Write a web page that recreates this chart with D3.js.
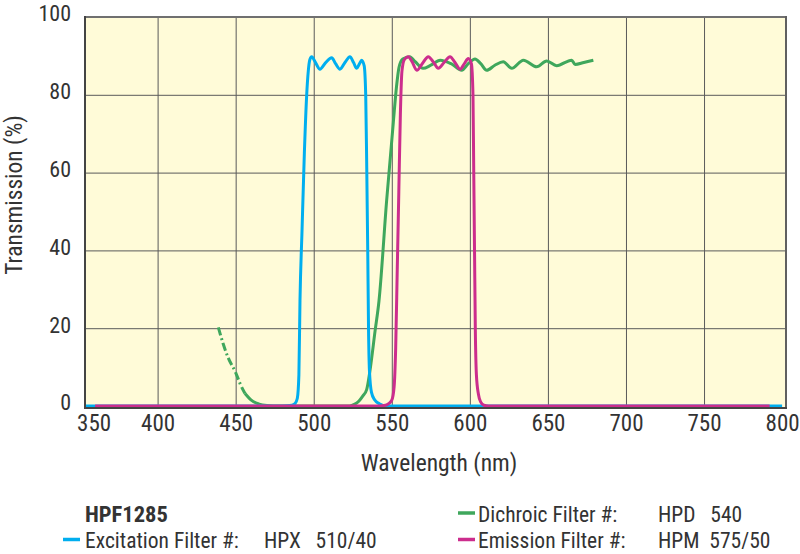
<html>
<head>
<script src="https://d3js.org/d3.v7.min.js"></script>
<style>
  body { margin: 0; background: #fff; }
  text { font-family: "Liberation Sans Narrow", "Roboto Condensed", "DejaVu Sans Condensed", Arial, sans-serif; fill: #333; }
</style>
</head>
<body>
<script>
// wavelength (nm), transmission (%)
var excitation = [
  [350, 0], [480, 0], [486, 0.2], [488, 0.6], [489.5, 2], [490.5, 8], [491.2, 27], [492.5, 45],
  [494, 65], [495.5, 80], [496.5, 86], [497.5, 89], [498.7, 89.8], [501, 88.4], [504, 86.6],
  [507.5, 88.2], [511.5, 89.5], [514, 88], [516.8, 86.6], [520, 88.3], [523.2, 89.8],
  [525.5, 88.3], [527.5, 86.8], [529.3, 88], [530.7, 88.9], [532.3, 87.5], [533.3, 80],
  [534, 60], [534.6, 40], [535.1, 20], [535.7, 9], [537, 3.5], [539, 1.6], [542, 0.6],
  [546.5, 0], [800, 0]
];
var dichroicDashed = [
  [438.9, 20.2], [442, 16], [445, 12.6], [450, 8.6], [453, 5.6], [456, 3.2]
];
var dichroic = [
  [456, 3.2], [460, 1.5], [465, 0.5], [470, 0.1], [474, 0], [523, 0], [526, 0.4], [529, 1.3],
  [531.5, 2.6], [533.9, 4.2], [536, 9], [539.3, 19.3], [541.8, 27], [546.7, 52.8], [551, 73],
  [553, 82], [554.6, 87], [557, 89.2], [561.5, 89.8], [565, 88.5], [570, 86.8], [575, 87.6],
  [581, 88.9], [588, 88], [594.8, 86.3], [599, 88], [603.3, 89.2], [607, 88], [610.8, 86.3],
  [616, 87.6], [621.4, 88.5], [626.8, 86.8], [634.3, 88.9], [642.8, 87.2], [649.2, 88.7],
  [655.6, 87.5], [665.2, 88.9], [667.4, 87.8], [673, 88.3], [679.1, 88.9]
];
var emission = [
  [360, 0], [542, 0], [546, 0.2], [548, 0.6], [550, 1.5], [551.5, 5], [552.5, 15], [553.5, 35],
  [554.5, 55], [555.5, 75], [556.5, 86], [558, 89], [560.6, 89.8], [563, 88.5], [566, 86.3],
  [569.5, 88], [573.4, 89.8], [576.5, 88.5], [579.8, 86.8], [583.5, 88.3], [587.3, 89.8],
  [590.5, 88.3], [593.7, 86.6], [596.5, 88], [599, 89.3], [601, 88], [602, 80], [602.5, 60],
  [603, 40], [603.5, 20], [604.2, 8], [605.5, 3], [607, 1], [609, 0.2], [612, 0], [792, 0]
];

var xTicks = [350, 400, 450, 500, 550, 600, 650, 700, 750, 800];
var yTicks = [0, 20, 40, 60, 80, 100];

var chartTitle = "HPF1285";
var legendNames = ["Excitation Filter #:", "Dichroic Filter #:", "Emission Filter #:"];
var legendCodes = ["HPX   510/40", "HPD   540", "HPM  575/50"];
var colors = ["#00aeef", "#3fa75c", "#cc2d8d"];

var width = 800, height = 554;
var plot = {left: 85, right: 786, top: 17, bottom: 408};

var svg = d3.select("body").append("svg")
    .attr("width", width)
    .attr("height", height);

var x = d3.scaleLinear().domain([353.5, 802.5]).range([plot.left, plot.right]);
var y = d3.scaleLinear().domain([0, 100]).range([406, plot.top]);

svg.append("clipPath").attr("id", "clip")
  .append("rect")
    .attr("x", plot.left).attr("y", plot.top - 2)
    .attr("width", plot.right - plot.left).attr("height", plot.bottom - plot.top + 2);

svg.append("rect")
    .attr("x", plot.left).attr("y", plot.top)
    .attr("width", plot.right - plot.left).attr("height", plot.bottom - plot.top)
    .attr("fill", "#fffbd8");

// grid
svg.append("g")
    .attr("transform", "translate(0," + plot.bottom + ")")
    .call(d3.axisBottom(x).tickValues(xTicks.slice(1, -1)).tickSize(-(plot.bottom - plot.top)).tickFormat(""))
    .call(g => g.select(".domain").remove())
    .call(g => g.selectAll("line").attr("stroke", "#5a5a5a").attr("stroke-width", 1));

svg.append("g")
    .attr("transform", "translate(" + plot.left + ",0)")
    .call(d3.axisLeft(y).tickValues(yTicks.slice(1, -1)).tickSize(-(plot.right - plot.left)).tickFormat(""))
    .call(g => g.select(".domain").remove())
    .call(g => g.selectAll("line").attr("stroke", "#5a5a5a").attr("stroke-width", 1));

// frame
svg.append("line").attr("x1", plot.left).attr("x2", plot.right).attr("y1", plot.top).attr("y2", plot.top)
    .attr("stroke", "#707070").attr("stroke-width", 2);
svg.append("line").attr("x1", plot.right).attr("x2", plot.right).attr("y1", plot.top - 1).attr("y2", plot.bottom + 1)
    .attr("stroke", "#606060").attr("stroke-width", 2);

var line = d3.line()
    .x(d => x(d[0]))
    .y(d => y(d[1]))
    .curve(d3.curveMonotoneX);

var curves = svg.append("g").attr("clip-path", "url(#clip)");

curves.append("path")
    .attr("d", line(dichroicDashed))
    .attr("fill", "none")
    .attr("stroke", colors[1])
    .attr("stroke-width", 3)
    .attr("stroke-dasharray", "8,3,2,3");

curves.append("path")
    .attr("d", line(dichroic))
    .attr("fill", "none")
    .attr("stroke", colors[1])
    .attr("stroke-width", 3)
    .attr("stroke-linejoin", "round");

curves.append("path")
    .attr("d", line(excitation))
    .attr("fill", "none")
    .attr("stroke", colors[0])
    .attr("stroke-width", 3)
    .attr("stroke-linejoin", "round");

curves.append("path")
    .attr("d", line(emission))
    .attr("fill", "none")
    .attr("stroke", colors[2])
    .attr("stroke-width", 3)
    .attr("stroke-linejoin", "round");

// axes
svg.append("g")
    .attr("transform", "translate(0," + plot.bottom + ")")
    .call(d3.axisBottom(x).tickValues(xTicks).tickSize(0).tickPadding(7))
    .call(g => g.select(".domain").attr("stroke", "#444").attr("stroke-width", 2)
        .attr("d", "M" + (plot.left - 1) + ",0H" + (plot.right + 1)))
    .call(g => g.selectAll("text").attr("font-size", 23).attr("fill", "#333").attr("font-family", null))
    .call(g => g.selectAll(".tick").filter(d => d === 350).select("text").attr("text-anchor", "start").attr("dx", -3));

svg.append("g")
    .attr("transform", "translate(" + plot.left + ",0)")
    .call(d3.axisLeft(y).tickValues(yTicks).tickSize(0).tickPadding(14))
    .call(g => g.select(".domain").attr("stroke", "#444").attr("stroke-width", 2)
        .attr("d", "M0," + (plot.top - 1) + "V" + (plot.bottom + 1)))
    .call(g => g.selectAll("text").attr("font-size", 22).attr("fill", "#333").attr("font-family", null).attr("dy", "0.18em"));

svg.append("text")
    .attr("transform", "translate(22,195) rotate(-90)")
    .attr("text-anchor", "middle")
    .attr("font-size", 23.5)
    .text("Transmission (%)");

svg.append("text")
    .attr("x", 439).attr("y", 471)
    .attr("text-anchor", "middle")
    .attr("font-size", 23.5)
    .text("Wavelength (nm)");

// legend
svg.append("text")
    .attr("x", 85).attr("y", 521.5)
    .attr("font-size", 22.5)
    .attr("font-weight", "bold")
    .text(chartTitle);

var legendPos = [
  {dash: 63, name: 85, code: 264, y: 548},
  {dash: 458, name: 478, code: 658, y: 521.5},
  {dash: 458, name: 478, code: 658, y: 548}
];

var legend = svg.append("g").selectAll("g")
    .data(legendNames).enter()
    .append("g");

legend.append("line")
    .attr("x1", (d, i) => legendPos[i].dash)
    .attr("x2", (d, i) => legendPos[i].dash + 17)
    .attr("y1", (d, i) => legendPos[i].y - 8.5)
    .attr("y2", (d, i) => legendPos[i].y - 8.5)
    .attr("stroke", (d, i) => colors[i])
    .attr("stroke-width", 3.5);

legend.append("text")
    .attr("x", (d, i) => legendPos[i].name)
    .attr("y", (d, i) => legendPos[i].y)
    .attr("font-size", 21.5)
    .text(d => d);

legend.append("text")
    .attr("x", (d, i) => legendPos[i].code)
    .attr("y", (d, i) => legendPos[i].y)
    .attr("font-size", 21.5)
    .style("white-space", "pre")
    .text((d, i) => legendCodes[i]);
</script>
</body>
</html>
